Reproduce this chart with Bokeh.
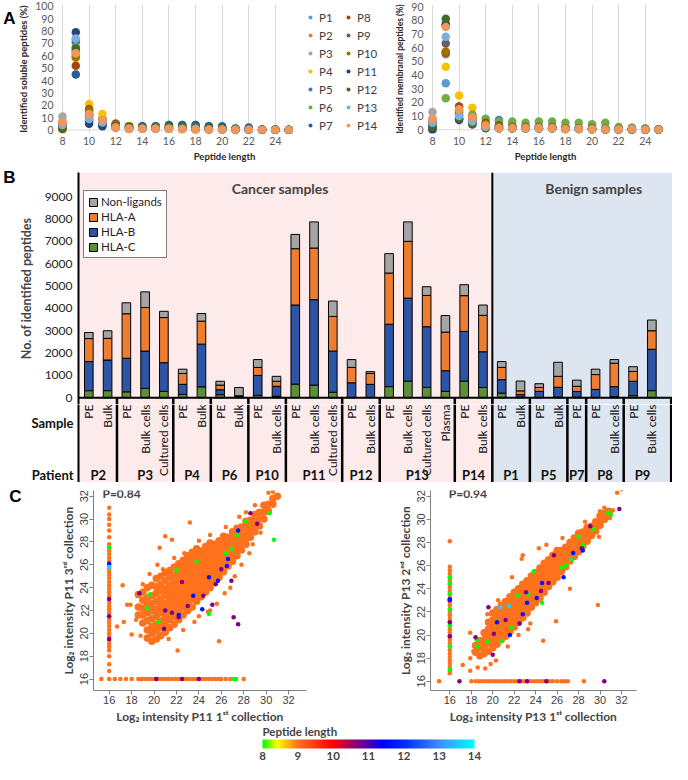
import math
import numpy as np
from bokeh.plotting import figure
from bokeh.layouts import column, row
from bokeh.models import (Range1d, FixedTicker, Span, Label, Legend, LegendItem, LinearAxis,
                          BoxAnnotation, ColumnDataSource, LinearColorMapper, ColorBar)
from bokeh.transform import transform
from bokeh.core.properties import value
from bokeh.embed import file_html
from bokeh.resources import INLINE

# ---------------- DATA: panel A (percent of peptides by length 8..25) ----------------
LENGTHS = [8, 9, 10, 11, 12, 13, 14, 15, 16, 17, 18, 19, 20, 21, 22, 23, 24, 25]
PATIENTS = ["P1", "P2", "P3", "P4", "P5", "P6", "P7", "P8", "P9", "P10", "P11", "P12", "P13", "P14"]

S_P1 = [3, 73, 12, 6, 2, 1, 1, 1, 1, 1, 0.5, 0.5, 0.3, 0.2, 0.2, 0, 0, 0]
S_P2 = [7, 62, 14, 9, 3, 1, 1, 1, 1, 1, 0.5, 0.5, 0.3, 0.2, 0.2, 0, 0, 0]
S_P3 = [11, 60, 13, 6, 3, 2, 1, 1, 1, 1, 0.5, 0.5, 0.3, 0.2, 0.1, 0, 0, 0]
S_P4 = [0, 58, 21, 13, 3, 1, 1, 1, 1, 0.5, 0.5, 0.3, 0.2, 0.1, 0.1, 0, 0, 0]
S_P5 = [2, 71, 8, 5, 4, 3, 3, 3, 4, 4, 4, 3, 2, 1, 1, 0.5, 0.3, 0.2]
S_P6 = [2, 67, 12, 6, 3, 2, 2, 2, 2, 2, 2, 1, 1, 1, 0.5, 0.3, 0.2, 0.1]
S_P7 = [4, 45, 7, 4, 5, 3, 3, 3, 4, 4, 4, 3, 3, 1, 2, 0.5, 0.5, 0.3]
S_P8 = [4, 52, 17, 8, 5, 3, 2, 2, 2, 2, 1, 1, 1, 0.5, 0.5, 0.2, 0.1, 0.1]
S_P9 = [5, 64, 10, 6, 3, 2, 2, 2, 2, 2, 1, 1, 1, 0.5, 0.5, 0.2, 0.1, 0]
S_P10 = [1, 59, 16, 8, 4, 3, 2, 2, 2, 2, 2, 1, 1, 0.5, 0.5, 0.2, 0.1, 0]
S_P11 = [3, 79, 5, 3, 2, 1, 1, 1, 1, 1, 1, 0.5, 0.5, 0.3, 0.2, 0.1, 0, 0]
S_P12 = [1, 66, 13, 7, 3, 2, 2, 2, 3, 3, 2, 2, 1, 1, 0.5, 0.3, 0.2, 0.1]
S_P13 = [4, 74, 9, 6, 2, 1, 1, 1, 1, 1, 1, 0.5, 0.5, 0.3, 0.2, 0.1, 0, 0]
S_P14 = [6, 62, 13, 8, 2, 1, 1, 1, 1, 0.5, 0.5, 0.3, 0.3, 0.2, 0.2, 0.1, 0, 0]

M_P1 = [6, 34, 10, 6, 2, 1, 1, 1, 1, 1, 0.5, 0.5, 0.3, 0.2, 0.2, 0.1, 0, 0]
M_P2 = [8, 57, 15, 9, 3, 2, 1, 1, 1, 1, 0.5, 0.5, 0.3, 0.2, 0.2, 0.1, 0, 0]
M_P3 = [13, 55, 14, 7, 3, 2, 1, 1, 1, 1, 0.5, 0.5, 0.3, 0.2, 0.1, 0, 0, 0]
M_P4 = [2, 46, 25, 16, 4, 2, 1, 1, 1, 1, 0.5, 0.5, 0.3, 0.2, 0.1, 0, 0, 0]
M_P5 = [1, 76, 8, 5, 3, 7, 3, 2, 2, 2, 2, 1, 1, 1, 0.5, 0.3, 0.2, 0.1]
M_P6 = [2, 23, 17, 11, 8, 6, 6, 5, 6, 6, 5, 5, 4, 5, 2, 1.5, 1, 0.5]
M_P7 = [3, 76, 8, 5, 3, 3, 2, 2, 2, 2, 1, 1, 1, 0.5, 0.5, 0.2, 0.1, 0]
M_P8 = [4, 56, 17, 9, 5, 3, 2, 2, 2, 2, 1, 1, 1, 0.5, 0.5, 0.2, 0.1, 0]
M_P9 = [5, 63, 11, 6, 3, 2, 1, 1, 1, 1, 0.5, 0.5, 0.3, 0.2, 0.2, 0.1, 0, 0]
M_P10 = [3, 57, 13, 7, 4, 2, 2, 2, 2, 2, 1, 1, 1, 0.5, 0.5, 0.2, 0.1, 0]
M_P11 = [0, 77, 7, 4, 2, 1, 1, 1, 1, 1, 0.5, 0.5, 0.3, 0.2, 0.1, 0, 0, 0]
M_P12 = [2, 81, 8, 4, 1, 1, 1, 1, 1, 1, 0.5, 0.5, 0.3, 0.2, 0.1, 0, 0, 0]
M_P13 = [5, 68, 10, 6, 2, 1, 1, 1, 1, 1, 0.5, 0.5, 0.3, 0.2, 0.1, 0.1, 0, 0]
M_P14 = [8, 75, 15, 9, 3, 1, 1, 1, 1, 1, 0.5, 0.5, 0.3, 0.2, 0.2, 0.1, 0, 0]

# ---------------- DATA: panel B ----------------
SAMPLES = ["PE", "Bulk", "PE", "Bulk cells", "Cultured cells", "PE", "Bulk", "PE", "Bulk",
           "PE", "Bulk cells", "PE", "Bulk cells", "Cultured cells", "PE", "Bulk cells",
           "PE", "Bulk cells", "Cultured cells", "Plasma", "PE", "Bulk cells",
           "PE", "Bulk", "PE", "Bulk", "PE", "PE", "Bulk cells", "PE", "Bulk cells"]
PATIENT_OF = ["P2", "P2", "P3", "P3", "P3", "P4", "P4", "P6", "P6", "P10", "P10",
              "P11", "P11", "P11", "P12", "P12", "P13", "P13", "P13", "P13", "P14", "P14",
              "P1", "P1", "P5", "P5", "P7", "P8", "P8", "P9", "P9"]
HLA_C = [320, 320, 265, 420, 290, 150, 490, 140, 20, 110, 70, 610, 570, 250, 15, 15,
         500, 750, 460, 290, 750, 460, 210, 30, 15, 30, 30, 15, 55, 100, 320]
HLA_B = [1300, 1370, 1505, 1670, 1280, 450, 1910, 220, 40, 890, 445, 3540, 3820, 1840, 655, 585,
         2790, 3710, 2720, 920, 2220, 1600, 600, 110, 275, 440, 250, 360, 445, 640, 1850]
HLA_A = [1030, 970, 1990, 1950, 2020, 490, 1030, 210, 30, 360, 225, 2520, 2310, 1550, 690, 490,
         2290, 2540, 1400, 1730, 1600, 1630, 550, 170, 170, 490, 235, 665, 1050, 440, 830]
NON_LIGANDS = [270, 340, 490, 700, 280, 190, 340, 170, 370, 350, 220, 640, 1170, 690, 350, 80,
               870, 870, 390, 740, 490, 460, 260, 440, 170, 630, 275, 240, 160, 210, 480]
FIRST_BENIGN = "P1"

# ---------------- DATA: panel C (log2 intensities) ----------------
P11_CLOUD = {
    18.6: [21.6, 22.3, 23.4], 19.0: [20.9, 21.6, 22.2, 22.9, 23.6],
    19.4: [19.6, 20.3, 21.1, 21.8, 22.5, 23.1, 24.0],
    19.8: [19.3, 20.0, 20.6, 21.3, 22.0, 22.6, 23.3, 24.2],
    20.2: [19.5, 20.2, 20.8, 21.5, 22.1, 22.8, 23.5, 24.1, 24.8],
    20.6: [19.8, 20.5, 21.1, 21.8, 22.4, 23.0, 23.7, 24.3, 25.0],
    21.0: [20.1, 20.8, 21.4, 22.0, 22.6, 23.3, 23.9, 24.6, 25.3],
    21.4: [20.5, 21.2, 21.8, 22.4, 23.0, 23.6, 24.2, 24.9, 25.5],
    21.8: [20.8, 21.5, 22.1, 22.7, 23.3, 23.9, 24.5, 25.1, 25.8],
    22.2: [21.2, 21.9, 22.5, 23.1, 23.7, 24.3, 24.9, 25.5, 26.1],
    22.6: [21.6, 22.3, 22.9, 23.5, 24.1, 24.7, 25.3, 25.9, 26.4],
    23.0: [22.0, 22.7, 23.3, 23.9, 24.5, 25.1, 25.7, 26.2, 26.8],
    23.4: [22.3, 23.0, 23.6, 24.2, 24.8, 25.4, 26.0, 26.6, 27.1],
    23.8: [22.8, 23.4, 24.0, 24.6, 25.2, 25.8, 26.3, 26.9, 27.4],
    24.2: [23.2, 23.8, 24.4, 25.0, 25.5, 26.1, 26.7, 27.2],
    24.6: [23.6, 24.2, 24.8, 25.4, 25.9, 26.5, 27.0, 27.6],
    25.0: [24.0, 24.6, 25.2, 25.8, 26.3, 26.9, 27.4, 27.9],
    25.4: [24.5, 25.1, 25.6, 26.2, 26.7, 27.3, 27.8],
    25.8: [24.9, 25.5, 26.0, 26.6, 27.1, 27.6, 28.1],
    26.2: [25.4, 26.0, 26.5, 27.0, 27.5, 28.0, 28.5],
    26.6: [25.9, 26.4, 26.9, 27.4, 27.9, 28.4],
    27.0: [26.3, 26.9, 27.4, 27.9, 28.4, 28.9],
    27.4: [26.8, 27.3, 27.8, 28.3, 28.8, 29.2],
    27.8: [27.3, 27.8, 28.3, 28.8, 29.3],
    28.2: [27.8, 28.3, 28.8, 29.3, 29.8],
    28.6: [28.4, 28.9, 29.4, 29.9], 29.0: [28.9, 29.5, 30.0, 30.4],
    29.4: [29.4, 30.0, 30.6], 29.8: [30.0, 30.6, 31.2], 30.2: [30.7, 31.3],
    30.6: [31.3, 31.8], 31.0: [32.0],
}
P11_OUT_X = [17.2, 17.6, 17.9, 17.3, 16.7, 18.0, 18.4, 20.5, 21.0, 21.6, 23.2, 22.1, 25.8, 19.6,
             20.3, 24.0, 25.0, 26.3, 27.2, 28.5, 29.5, 30.2, 30.6, 29.0, 28.2, 27.6, 26.4, 25.0,
             24.0, 22.7, 21.8, 20.8, 19.0, 18.8, 19.6, 21.3, 22.6, 23.6, 24.8, 25.6, 26.8, 27.8, 28.8]
P11_OUT_Y = [24.2, 22.5, 22.5, 21.0, 20.6, 19.9, 21.2, 27.5, 28.5, 28.2, 29.7, 18.5, 19.3, 25.2,
             26.0, 21.5, 22.0, 23.5, 25.0, 27.0, 28.8, 32.3, 32.4, 31.2, 30.6, 30.2, 29.3, 28.6,
             28.1, 27.0, 26.6, 25.6, 24.3, 19.8, 19.5, 19.5, 20.3, 21.0, 21.9, 22.6, 24.0, 26.0, 27.8]
P11_MISS1_Y = [16.7, 17.3, 18.0, 18.5, 18.8, 19.1, 19.4, 19.7, 20.0, 20.3, 20.6, 20.9, 21.2, 21.5,
               21.8, 22.1, 22.4, 22.7, 23.0, 23.3, 23.6, 23.9, 24.2, 24.5, 24.8, 25.1, 25.4, 25.7,
               26.0, 26.3, 26.6, 26.9, 27.2, 27.5, 27.8, 28.4, 29.0, 29.5, 30.0, 30.4, 31.0]
P11_MISS2_X = [15.3, 16.0, 16.5, 17.0, 17.5, 18.0, 18.6, 18.9, 19.2, 19.5, 19.8, 20.1, 20.4, 20.7,
               21.0, 21.3, 21.6, 21.9, 22.2, 22.5, 22.8, 23.1, 23.4, 23.7, 24.0, 24.3, 24.6, 24.9,
               25.2, 25.5, 25.8, 26.0, 26.4, 26.8, 28.0]
P11_HI_X = [16, 26.4, 27.4, 28.2, 30.3, 30.7, 24.9, 20.4, 19.4, 22.0, 23.8, 26.9, 27.1, 27.3, 19.6,
            18.7, 22.5, 21.0, 22.2, 24.4, 25.2, 27.5, 27.1, 26.9, 28.6, 29.2, 23.0, 20.9, 25.5, 16, 16, 16,
            20.2, 22.5, 24.0, 21.6, 26.0,
            23.5, 24.9, 25.7, 26.6, 22.2, 24.3, 26.5, 27.5, 16, 16]
P11_HI_Y = [27.5, 27.0, 28.6, 29.8, 30.5, 28.2, 21.7, 21.0, 22.2, 25.5, 26.3, 27.4, 16, 16, 23.4,
            23.5, 24.5, 22.0, 21.4, 23.3, 22.5, 20.8, 21.4, 24.6, 30.5, 29.6, 22.4, 20.4, 24.3, 23.0, 21.5, 19.5,
            16, 16, 16, 21.8, 25.6,
            23.3, 24.9, 24.6, 26.5, 21.6, 22.1, 25.9, 29.0, 26.1, 25.8]
P11_HI_LEN = [8, 8, 8, 8, 8, 8, 8, 8, 8, 8, 8, 8, 8, 8, 8,
              10.7, 10.7, 10.7, 10.7, 10.7, 10.7, 10.7, 10.7, 10.7, 10.7, 10.7, 10.7, 10.7, 10.7, 10.7, 10.7, 10.7,
              10.7, 10.7, 10.7, 10.7, 10.7,
              11.7, 11.7, 11.7, 11.7, 11.7, 11.7, 11.7, 11.7, 11.7, 13.6]

P13_CLOUD = {
    18.4: [18.5, 19.1], 18.8: [18.2, 18.9, 19.5], 19.2: [18.4, 19.0, 19.6, 20.2],
    19.6: [18.6, 19.3, 19.9, 20.5, 21.1], 20.0: [18.9, 19.5, 20.1, 20.7, 21.3, 21.9],
    20.4: [19.2, 19.8, 20.4, 21.0, 21.6, 22.2], 20.8: [19.6, 20.2, 20.8, 21.4, 22.0, 22.6],
    21.2: [19.9, 20.5, 21.1, 21.7, 22.3, 22.9], 21.6: [20.3, 20.9, 21.5, 22.1, 22.7, 23.3],
    22.0: [20.7, 21.3, 21.9, 22.5, 23.1, 23.7], 22.4: [21.1, 21.7, 22.3, 22.9, 23.5, 24.0],
    22.8: [21.5, 22.1, 22.7, 23.3, 23.8, 24.4], 23.2: [21.9, 22.5, 23.1, 23.6, 24.2, 24.7],
    23.6: [22.4, 22.9, 23.5, 24.0, 24.6, 25.1], 24.0: [22.8, 23.3, 23.9, 24.4, 24.9, 25.4],
    24.4: [23.2, 23.8, 24.3, 24.8, 25.3, 25.8], 24.8: [23.7, 24.2, 24.7, 25.2, 25.7, 26.2],
    25.2: [24.2, 24.7, 25.2, 25.6, 26.1, 26.5], 25.6: [24.6, 25.1, 25.6, 26.0, 26.5, 26.9],
    26.0: [25.0, 25.5, 26.0, 26.4, 26.9, 27.3], 26.4: [25.5, 26.0, 26.4, 26.8, 27.3],
    26.8: [25.9, 26.4, 26.8, 27.2, 27.6], 27.2: [26.4, 26.8, 27.2, 27.6, 28.0],
    27.6: [26.8, 27.2, 27.6, 28.0, 28.4], 28.0: [27.2, 27.6, 28.0, 28.4, 28.8],
    28.4: [27.7, 28.1, 28.5, 28.9], 28.8: [28.1, 28.5, 28.9, 29.3],
    29.2: [28.6, 29.0, 29.4], 29.6: [29.0, 29.4, 29.8], 30.0: [29.5, 29.9, 30.3],
    30.4: [30.0, 30.5], 30.8: [30.3, 30.7],
}
P13_OUT_X = [17.2, 17.9, 18.6, 19.3, 19.8, 20.3, 17.9, 19.5, 20.5, 21.8, 22.7, 22.8, 24.3, 25.0,
             21.4, 22.4, 23.5, 24.7, 25.9, 27.2, 29.8, 29.9, 31.2, 31.6, 32.0, 30.9, 31.0, 26.5,
             28.6, 30.0, 30.4, 23.3, 18.2, 17.9]
P13_OUT_Y = [17.4, 16.9, 17.2, 17.1, 17.5, 17.8, 20.2, 21.8, 23.0, 25.0, 26.6, 26.9, 27.5, 27.8,
             19.0, 20.0, 21.0, 19.5, 21.2, 24.0, 22.6, 28.5, 30.8, 32.3, 32.6, 30.1, 30.6, 28.4,
             29.8, 30.7, 31.0, 20.5, 18.6, 18.0]
P13_MISS1_Y = [16.7, 16.9, 17.2, 17.5, 17.8, 18.1, 18.4, 18.7, 19.0, 19.3, 19.6, 19.9, 20.2, 20.5,
               20.8, 21.1, 21.4, 21.7, 22.0, 22.3, 22.6, 22.9, 23.2, 23.5, 23.8, 24.1, 24.4, 24.7,
               25.0, 25.3, 25.6, 25.9, 28.1]
P13_MISS2_X = [15.0, 18.0, 18.4, 18.7, 19.0, 19.3, 19.6, 19.9, 20.2, 20.5, 20.8, 21.1, 21.4, 21.7,
               22.0, 22.3, 22.6, 22.9, 23.2, 23.5, 23.8, 24.1, 24.4, 24.7, 25.0, 25.3, 25.6, 26.0,
               26.4, 26.7, 27.0, 28.5]
P13_HI_X = [16, 16, 16, 16, 16, 16, 16, 18.5, 18.6, 19.5, 20.8, 21.7, 22.3, 23.3, 24.6, 26.4, 26.8,
            27.3, 28.0, 28.4, 29.4, 31.0, 30.7, 23.8,
            19.6, 18.4, 20.0, 20.1, 21.2, 22.5, 23.1, 24.5, 25.2, 25.7, 28.3, 29.1, 30.4, 31.8, 16.9,
            16, 16, 16, 22.5, 23.2, 25.0,
            20.4, 21.6, 22.8, 23.2, 24.1, 24.6, 26.6, 27.5, 28.4, 16,
            20.7, 21.5]
P13_HI_Y = [25.0, 24.5, 23.6, 22.2, 20.8, 19.0, 17.0, 19.6, 19.0, 19.4, 19.5, 20.7, 23.4, 23.5, 22.8,
            25.8, 26.0, 26.5, 28.5, 27.8, 29.2, 30.4, 30.6, 25.5,
            22.4, 19.8, 18.3, 20.1, 21.3, 21.0, 23.7, 23.8, 24.5, 26.9, 27.5, 29.4, 16, 30.9, 16,
            21.1, 23.0, 19.9, 16, 16, 16,
            21.1, 20.0, 21.8, 22.8, 23.2, 24.5, 25.0, 27.1, 27.3, 23.1,
            22.4, 22.5]
P13_HI_LEN = [8, 8, 8, 8, 8, 8, 8, 8, 8, 8, 8, 8, 8, 8, 8, 8, 8, 8, 8, 8, 8, 8, 8, 8,
              10.7, 10.7, 10.7, 10.7, 10.7, 10.7, 10.7, 10.7, 10.7, 10.7, 10.7, 10.7, 10.7, 10.7, 10.7,
              10.7, 10.7, 10.7, 10.7, 10.7, 10.7,
              11.7, 11.7, 11.7, 11.7, 11.7, 11.7, 11.7, 11.7, 11.7, 11.7,
              13.6, 13.6]
MISSING_VALUE = 16
NINE_MER = 9

# ---------------- STYLE ----------------
FONT = "Lato"
ARIAL = "Liberation Sans"
A_COLORS = {"P1": "#5B9BD5", "P2": "#ED7D31", "P3": "#A5A5A5", "P4": "#FFC000", "P5": "#4472C4",
            "P6": "#70AD47", "P7": "#255E91", "P8": "#9E480E", "P9": "#636363", "P10": "#997300",
            "P11": "#264478", "P12": "#43682B", "P13": "#7CAFDD", "P14": "#F1975A"}
BAR_COLORS = ["#5B8F3A", "#2E55A5", "#ED7D31", "#A5A5A5"]
PINK = "#FDEBEB"
BLUE_BG = "#DDE5F1"

ANCHORS = [(8.0, "#00FF00"), (8.4, "#FFFF00"), (9.0, "#FF6E1E"), (10.0, "#FF0000"),
           (10.5, "#A00060"), (11.0, "#5000B0"), (11.4, "#0000FF"), (12.0, "#0028FF"),
           (13.0, "#3C8CFF"), (14.0, "#00FFFF")]


def build_palette(anchors, n=256):
    pos = np.array([a[0] for a in anchors])
    rgb = np.array([[int(c[i:i + 2], 16) for i in (1, 3, 5)] for _, c in anchors], float)
    t = np.linspace(pos[0], pos[-1], n)
    cols = []
    for v in t:
        r, g, b = (int(round(np.interp(v, pos, rgb[:, k]))) for k in range(3))
        cols.append("#%02X%02X%02X" % (r, g, b))
    return cols


MAPPER = LinearColorMapper(palette=build_palette(ANCHORS), low=8, high=14)

S_DATA = {k: globals()["S_" + k] for k in PATIENTS}
M_DATA = {k: globals()["M_" + k] for k in PATIENTS}


def letter_axis(p, txt, at, standoff):
    """Panel letter drawn as the single tick label of an extra, invisible left axis."""
    ax = LinearAxis(ticker=FixedTicker(ticks=[at]), major_label_overrides={at: txt})
    ax.axis_line_color = None
    ax.major_tick_line_color = None
    ax.minor_tick_line_color = None
    ax.major_tick_out = 0
    ax.major_tick_in = 0
    ax.major_label_standoff = standoff
    ax.major_label_text_font = ARIAL
    ax.major_label_text_font_style = "bold"
    ax.major_label_text_font_size = "17px"
    ax.major_label_text_color = "black"
    p.add_layout(ax, "left")


# ---------------- PANEL A ----------------
XA = (7.55, 25.45)


def panel_a(series, ylabel, ymax, width, left, right, x_end, title_size):
    p = figure(width=width, height=164, x_range=Range1d(XA[0], x_end),
               y_range=Range1d(-2.8, ymax + 1.5), output_backend="svg", toolbar_location=None,
               min_border_left=left, min_border_right=right, min_border_top=4, min_border_bottom=0)
    p.outline_line_color = None
    p.ygrid.visible = False
    p.xgrid.ticker = FixedTicker(ticks=list(range(8, 25, 2)))
    p.xgrid.grid_line_color = "#D9D9D9"
    p.xaxis.ticker = FixedTicker(ticks=list(range(8, 25, 2)))
    p.yaxis.ticker = FixedTicker(ticks=list(range(0, ymax + 1, 10)))
    p.xaxis.axis_label = "Peptide length"
    p.yaxis.axis_label = ylabel
    for ax in p.axis:
        ax.axis_line_color = None
        ax.major_tick_line_color = None
        ax.minor_tick_line_color = None
        ax.major_tick_out = 0
        ax.major_label_text_font = FONT
        ax.major_label_text_font_size = "10.5px"
        ax.major_label_text_color = "#595959"
        ax.major_label_standoff = 3
        ax.axis_label_text_font = FONT
        ax.axis_label_text_font_style = "bold"
        ax.axis_label_text_font_size = "9.5px"
        ax.axis_label_text_color = "#262626"
        ax.axis_label_standoff = 3
    p.yaxis.axis_label_text_font_size = title_size
    p.segment(x0=XA[0], y0=0, x1=XA[1], y1=0, line_color="#D9D9D9", line_width=1, level="underlay")
    rs = {}
    for k in PATIENTS:
        rs[k] = p.scatter(LENGTHS, series[k], size=8.5, fill_color=A_COLORS[k], line_color=None)
    return p, rs


pa1, rs1 = panel_a(S_DATA, "Identified soluble peptides (%)", 100, 392, 52, 0, 32.8, "9.5px")
pa2, _ = panel_a(M_DATA, "Identified membranal peptides (%)", 90, 280, 32, 8, XA[1], "8.5px")
for keys, lx in ((PATIENTS[:7], 249), (PATIENTS[7:], 287)):
    leg = Legend(items=[LegendItem(label=k, renderers=[rs1[k]]) for k in keys],
                 location=(lx, 0), border_line_color=None, background_fill_alpha=0,
                 label_text_font=FONT, label_text_font_size="11.5px", label_text_color="#404040",
                 glyph_width=10, glyph_height=16, label_height=16, spacing=2, padding=3,
                 margin=0, label_standoff=4)
    pa1.add_layout(leg)
letter_axis(pa1, "A", 90, 0)

# ---------------- PANEL B ----------------
nb = len(SAMPLES)
XB = list(range(nb))
split = PATIENT_OF.index(FIRST_BENIGN) - 0.5
X_RANGE = Range1d(-0.55, nb + 0.1)
src_b = ColumnDataSource(dict(x=XB, hla_c=HLA_C, hla_b=HLA_B, hla_a=HLA_A,
                              non_ligands=NON_LIGANDS, sample=SAMPLES, patient=PATIENT_OF))
groups = []
for i, pat in enumerate(PATIENT_OF):
    if not groups or groups[-1][0] != pat:
        groups.append([pat, i, i])
    else:
        groups[-1][2] = i
bounds = [g[1] - 0.5 for g in groups[1:]] + [nb + 0.03]


def backgrounds(p):
    p.add_layout(BoxAnnotation(right=split, fill_color=PINK, fill_alpha=1, line_color=None,
                               level="underlay"))
    p.add_layout(BoxAnnotation(left=split, fill_color=BLUE_BG, fill_alpha=1, line_color=None,
                               level="underlay"))


B_BOTTOM = -300
pb = figure(width=672, height=240, x_range=X_RANGE, y_range=Range1d(B_BOTTOM, 10080),
            output_backend="svg", toolbar_location=None, x_axis_location=None,
            min_border_left=72, min_border_right=0, min_border_top=8, min_border_bottom=0)
pb.outline_line_color = None
pb.grid.visible = False
backgrounds(pb)
pb.add_layout(Span(location=split, dimension="height", line_color="black", line_width=2))
pb.segment(x0=bounds, y0=B_BOTTOM, x1=bounds, y1=0, line_color="black", line_width=2.5)
pb.add_layout(Span(location=0, dimension="width", line_color="black", line_width=2))
stack = pb.vbar_stack(["hla_c", "hla_b", "hla_a", "non_ligands"], x="x", width=0.46,
                      fill_color=BAR_COLORS, line_color="black", line_width=1, source=src_b)
ya = pb.yaxis[0]
ya.ticker = FixedTicker(ticks=list(range(0, 9001, 1000)))
ya.axis_label = "No. of identified peptides"
ya.axis_line_color = "black"
ya.axis_line_width = 2
ya.major_tick_line_color = None
ya.minor_tick_line_color = None
ya.major_tick_out = 0
ya.major_label_text_font = FONT
ya.major_label_text_font_size = "12px"
ya.major_label_text_color = "#222222"
ya.major_label_standoff = 6
ya.axis_label_text_font = FONT
ya.axis_label_text_font_style = "bold"
ya.axis_label_text_font_size = "12.5px"
ya.axis_label_standoff = 8
letter_axis(pb, "B", 9850, 0)
legb = Legend(items=[LegendItem(label="Non-ligands", renderers=[stack[3]]),
                     LegendItem(label="HLA-A", renderers=[stack[2]]),
                     LegendItem(label="HLA-B", renderers=[stack[1]]),
                     LegendItem(label="HLA-C", renderers=[stack[0]])],
              location=(5, 146), border_line_color="black", border_line_width=1,
              background_fill_color="white", background_fill_alpha=1,
              label_text_font=FONT, label_text_font_size="11.5px", label_text_color="#222222",
              glyph_width=10, glyph_height=10, label_height=13, spacing=2, padding=4,
              margin=0, label_standoff=3)
pb.add_layout(legb)
for txt, xc in (("Cancer samples", 10.2), ("Benign samples", 26.9)):
    pb.add_layout(Label(x=xc, y=9370, text=txt, text_align="center", text_baseline="middle",
                        text_font=FONT, text_font_style="bold", text_font_size="14px"))

# sample / patient table
pt = figure(width=672, height=78, x_range=X_RANGE, y_range=Range1d(0, 100),
            output_backend="svg", toolbar_location=None, x_axis_location=None,
            min_border_left=72, min_border_right=0, min_border_top=0, min_border_bottom=0)
pt.outline_line_color = None
pt.grid.visible = False
backgrounds(pt)
pt.segment(x0=bounds, y0=0, x1=bounds, y1=100, line_color="black", line_width=2.5)
pt.text(x="x", y=100, text="sample", source=src_b, angle=math.pi / 2, text_align="right",
        text_baseline="middle", text_font=value(FONT), text_font_size="12px", text_color="#111111")
pt.text(x=[(g[1] + g[2]) / 2 for g in groups], y=9, text=[g[0] for g in groups],
        text_align="center", text_baseline="middle", text_font=value(FONT),
        text_font_style="bold", text_font_size="13px", text_color="#111111")
yt = pt.yaxis[0]
yt.ticker = FixedTicker(ticks=[10, 76])
yt.major_label_overrides = {10: "Patient", 76: "Sample"}
yt.axis_line_color = "black"
yt.axis_line_width = 2
yt.major_tick_line_color = None
yt.minor_tick_line_color = None
yt.major_tick_out = 0
yt.major_label_standoff = 5
yt.major_label_text_font = FONT
yt.major_label_text_font_style = "bold"
yt.major_label_text_font_size = "13px"
yt.major_label_text_color = "#111111"


# ---------------- PANEL C ----------------
def scatter_panel(cloud, out_x, out_y, miss1_y, miss2_x, hi_x, hi_y, hi_len, xr, yr,
                  xlabel, ylabel, ptxt, left, right, ptx):
    p = figure(width=336, height=244, x_range=Range1d(*xr), y_range=Range1d(*yr),
               output_backend="svg", toolbar_location=None, min_border_left=left,
               min_border_right=right, min_border_top=8, min_border_bottom=0)
    p.grid.visible = False
    p.outline_line_color = None
    cx, cy = [], []
    for x, ys in cloud.items():
        cx += [x] * len(ys)
        cy += ys
    base = dict(fill_color=transform("len", MAPPER), line_color=None)
    p.scatter("x", "y", source=ColumnDataSource(dict(x=cx, y=cy, len=[NINE_MER] * len(cx))),
              size=7.5, **base)
    ox = out_x + [MISSING_VALUE] * len(miss1_y) + miss2_x
    oy = out_y + miss1_y + [MISSING_VALUE] * len(miss2_x)
    p.scatter("x", "y", source=ColumnDataSource(dict(x=ox, y=oy, len=[NINE_MER] * len(ox))),
              size=4.5, **base)
    p.scatter("x", "y", source=ColumnDataSource(dict(x=hi_x, y=hi_y, len=hi_len)),
              size=4.5, **base)
    p.xaxis.ticker = FixedTicker(ticks=list(range(16, 33, 2)))
    p.yaxis.ticker = FixedTicker(ticks=list(range(16, 33, 2)))
    p.yaxis.major_label_orientation = "parallel"
    p.xaxis.axis_label = xlabel
    p.yaxis.axis_label = ylabel
    for ax in p.axis:
        ax.axis_line_color = "#7F7F7F"
        ax.major_tick_line_color = "#7F7F7F"
        ax.major_tick_in = 0
        ax.major_tick_out = 4
        ax.minor_tick_line_color = None
        ax.major_label_text_font = ARIAL
        ax.major_label_text_font_size = "11px"
        ax.major_label_text_color = "#404040"
        ax.major_label_standoff = 1
        ax.axis_label_text_font = FONT
        ax.axis_label_text_font_style = "bold"
        ax.axis_label_text_font_size = "12px"
        ax.axis_label_standoff = 2
    p.add_layout(Label(x=ptx, y=yr[1] - 0.3, text=ptxt, text_baseline="middle",
                       text_font=FONT, text_font_style="bold", text_font_size="12px"))
    return p


ps1 = scatter_panel(P11_CLOUD, P11_OUT_X, P11_OUT_Y, P11_MISS1_Y, P11_MISS2_X,
                    P11_HI_X, P11_HI_Y, P11_HI_LEN, (14.6, 33.6), (15.0, 32.5),
                    "Log\u2082 intensity P11 1\u02e2\u1d57 collection",
                    "Log\u2082 intensity P11 3\u02b3\u1d48 collection", "P=0.84", 93, 30, 15.4)
ps2 = scatter_panel(P13_CLOUD, P13_OUT_X, P13_OUT_Y, P13_MISS1_Y, P13_MISS2_X,
                    P13_HI_X, P13_HI_Y, P13_HI_LEN, (14.2, 33.4), (15.2, 32.5),
                    "Log\u2082 intensity P13 1\u02e2\u1d57 collection",
                    "Log\u2082 intensity P13 2\u207f\u1d48 collection", "P=0.94", 94, 36, 15.9)
letter_axis(ps1, "C", 32, 36)

pc = figure(width=672, height=36, output_backend="svg", toolbar_location=None,
            x_axis_location=None, y_axis_location=None, min_border=0)
pc.outline_line_color = None
cb = ColorBar(color_mapper=MAPPER, orientation="horizontal", width=212, height=9,
              location=(184, 0), ticker=FixedTicker(ticks=list(range(8, 15))),
              title="Peptide length", title_text_font=FONT, title_text_font_style="bold",
              title_text_font_size="11.5px", title_standoff=3, title_text_align="center",
              major_label_text_font=FONT, major_label_text_font_style="bold",
              major_label_text_font_size="11.5px", label_standoff=3,
              major_tick_line_color=None, bar_line_color=None, border_line_color=None,
              background_fill_alpha=0, padding=0)
pc.add_layout(cb, "center")

layout = column(row(pa1, pa2), pb, pt, row(ps1, ps2), pc)
open("out.html", "w").write(file_html(layout, INLINE))
